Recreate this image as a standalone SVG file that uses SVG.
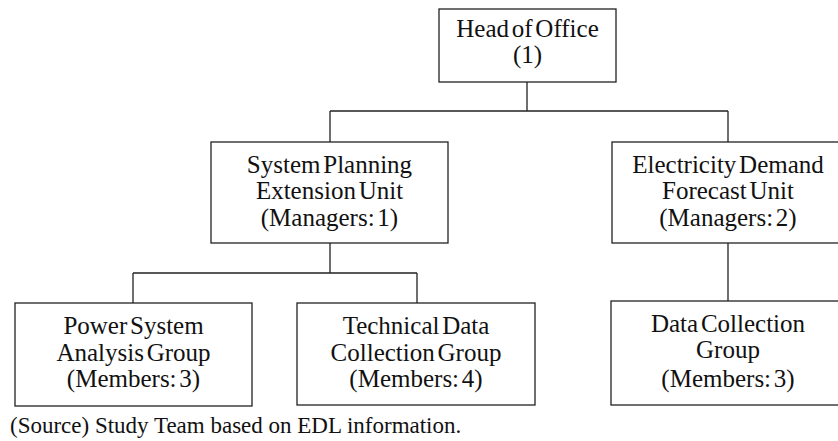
<svg xmlns="http://www.w3.org/2000/svg" width="838" height="441" viewBox="0 0 838 441">
  <style>
    .box { fill: #ffffff; stroke: #222222; stroke-width: 1.3; }
    .link { fill: none; stroke: #222222; stroke-width: 1.3; }
    .lbl { font-family: "Liberation Serif", "Times New Roman", serif; font-size: 25px; fill: #111111; text-anchor: middle; word-spacing: -3.5px; }
    .note { font-family: "Liberation Serif", "Times New Roman", serif; font-size: 23px; fill: #111111; }
  </style>
  <rect width="838" height="441" fill="#ffffff"/>

  <g id="connectors">
    <path class="link" d="M527 82 V111 M330 111 H728 M330 111 V142 M728 111 V142"/>
    <path class="link" d="M330 243 V273 M133 273 H417 M133 273 V303 M417 273 V303"/>
    <path class="link" d="M728 243 V301"/>
  </g>

  <g id="head-of-office">
    <rect class="box" x="439" y="9" width="177" height="73"/>
    <text class="lbl" x="527.5" y="37">Head of Office</text>
    <text class="lbl" x="527.5" y="63">(1)</text>
  </g>

  <g id="system-planning">
    <rect class="box" x="211" y="142" width="237" height="101"/>
    <text class="lbl" x="329.5" y="173">System Planning</text>
    <text class="lbl" x="329.5" y="199">Extension Unit</text>
    <text class="lbl" x="329.5" y="226">(Managers: 1)</text>
  </g>

  <g id="demand-forecast">
    <rect class="box" x="612" y="142" width="232" height="101"/>
    <text class="lbl" x="728" y="173">Electricity Demand</text>
    <text class="lbl" x="728" y="199">Forecast Unit</text>
    <text class="lbl" x="728" y="226">(Managers: 2)</text>
  </g>

  <g id="power-system-analysis">
    <rect class="box" x="15" y="303" width="237" height="103"/>
    <text class="lbl" x="133.5" y="334">Power System</text>
    <text class="lbl" x="133.5" y="361">Analysis Group</text>
    <text class="lbl" x="133.5" y="387">(Members: 3)</text>
  </g>

  <g id="technical-data">
    <rect class="box" x="297" y="303" width="238" height="102"/>
    <text class="lbl" x="416" y="334">Technical Data</text>
    <text class="lbl" x="416" y="361">Collection Group</text>
    <text class="lbl" x="416" y="387">(Members: 4)</text>
  </g>

  <g id="data-collection">
    <rect class="box" x="611" y="301" width="234" height="104"/>
    <text class="lbl" x="728" y="332">Data Collection</text>
    <text class="lbl" x="728" y="358">Group</text>
    <text class="lbl" x="728" y="387">(Members: 3)</text>
  </g>

  <text class="note" x="10" y="433">(Source) Study Team based on EDL information.</text>
</svg>
